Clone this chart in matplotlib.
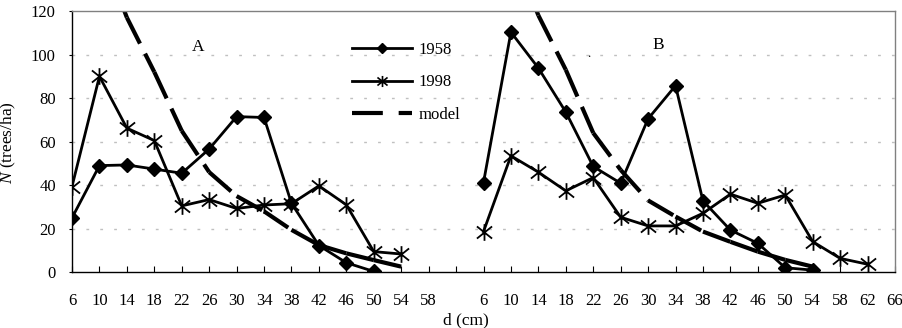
import matplotlib
matplotlib.use("Agg")
import matplotlib.pyplot as plt
from matplotlib.path import Path
from matplotlib.lines import Line2D
import numpy as np

plt.rcParams['font.family'] = ['Liberation Serif', 'DejaVu Serif']
plt.rcParams['mathtext.fontset'] = 'custom'
plt.rcParams['mathtext.rm'] = 'Liberation Serif'
plt.rcParams['mathtext.it'] = 'Liberation Serif:italic'

# ---- data ----
d_A = [6, 10, 14, 18, 22, 26, 30, 34, 38, 42, 46, 50, 54, 58]
d_B = [6, 10, 14, 18, 22, 26, 30, 34, 38, 42, 46, 50, 54, 58, 62, 66]

a1958 = [25, 49, 49.3, 47.4, 45.5, 56.6, 71.5, 71.1, 31.7, 12.3, 4.4, 0.4]
a1998 = [39.4, 90, 66.2, 60.5, 30.5, 33.4, 29.3, 30.9, 31.5, 39.7, 31, 9.5, 8.4]
a_model_d = [10, 14, 18, 22, 26, 30, 34, 38, 42, 46, 50, 54]
a_model = [150, 117, 92, 65, 46, 35, 28, 19.5, 12.5, 8.7, 5.6, 2.6]

b1958 = [41.2, 110.3, 93.8, 73.6, 48.6, 40.9, 70.5, 85.7, 32.8, 19.4, 13.3, 2.1, 1.0]
b1998 = [18.7, 53.5, 46, 37.4, 43.5, 25.3, 21.3, 21.3, 27.1, 35.9, 31.7, 35.5, 14.1, 6.4, 3.7]
b_model_d = [10, 14, 18, 22, 26, 30, 34, 38, 42, 46, 50, 54]
b_model = [150, 118, 93, 64, 47, 33, 25.6, 18.7, 14, 9.5, 5.7, 2.6]

# category positions: panel A, one blank slot, panel B
posA = {d: i for i, d in enumerate(d_A)}
offB = len(d_A) + 1
posB = {d: offB + i for i, d in enumerate(d_B)}
tick_pos = list(range(offB + len(d_B)))
tick_lab = [str(d) for d in d_A] + [''] + [str(d) for d in d_B]

star = Path([(-1, -0.8), (1, 0.8), (-1, 0.8), (1, -0.8), (0, -1.1), (0, 1.1)],
            [Path.MOVETO, Path.LINETO, Path.MOVETO, Path.LINETO, Path.MOVETO, Path.LINETO])

FS = 12

fig = plt.figure(figsize=(9.02, 3.28), dpi=100)
ax = fig.add_axes([72/902, 1-272.3/328, (895-72)/902, (272.3-11)/328])

line_kw = dict(color='black', lw=2.0)
dia_kw = dict(marker='D', ms=7, mfc='black', mec='black')
star_kw = dict(marker=star, ms=12, mfc='none', mec='black', mew=1.3)
model_kw = dict(color='black', lw=3.0, dashes=(7, 2.7), solid_capstyle='butt', dash_capstyle='butt')

def seg_plot(xs, ys):
    for i in range(len(xs) - 1):
        ax.plot(xs[i:i+2], ys[i:i+2], **model_kw)

# panel A
ax.plot([posA[d] for d in d_A[:len(a1958)]], a1958, **line_kw, **dia_kw)
ax.plot([posA[d] for d in d_A[:len(a1998)]], a1998, **line_kw, **star_kw)
seg_plot([posA[d] for d in a_model_d], a_model)
# panel B
ax.plot([posB[d] for d in d_B[:len(b1958)]], b1958, **line_kw, **dia_kw)
ax.plot([posB[d] for d in d_B[:len(b1998)]], b1998, **line_kw, **star_kw)
seg_plot([posB[d] for d in b_model_d], b_model)

ax.set_xlim(0, tick_pos[-1])
ax.set_ylim(0, 120)
ax.set_yticks([0, 20, 40, 60, 80, 100, 120])
ax.set_xticks(tick_pos)
ax.set_xticklabels(tick_lab)
ax.tick_params(axis='x', direction='in', length=4, width=0.8, pad=15, labelsize=FS)
ax.tick_params(axis='y', direction='out', length=2.2, width=0.8, pad=9.5, labelsize=FS)

for y in [20, 40, 60, 80, 100]:
    ax.axhline(y, color='#c0c0c0', lw=1.0, ls=(0, (2, 8)), zorder=0)

ax.spines['left'].set_color('black')
ax.spines['bottom'].set_color('black')
ax.spines['left'].set_linewidth(1.0)
ax.spines['bottom'].set_linewidth(1.0)
ax.spines['top'].set_color('#808080')
ax.spines['right'].set_color('#808080')
ax.spines['top'].set_linewidth(1.0)
ax.spines['right'].set_linewidth(1.0)

ax.text(4.59, 103.5, 'A', fontsize=12.5, ha='center', va='center')
ax.text(21.36, 104.5, 'B', fontsize=12.5, ha='center', va='center')
ax.text(18.85, 97.5, '.', fontsize=9, ha='center', va='bottom')

fig.text(465.5/902, 1-320/328, 'd (cm)', fontsize=12.5, ha='center', va='center')
fig.text(8/902, 1-143/328, r'$N$ (trees/ha)', fontsize=12.5, ha='center', va='center', rotation=90)

h1 = Line2D([], [], color='black', lw=2.0, marker='D', ms=4.8, mfc='black', mec='black')
h2 = Line2D([], [], color='black', lw=2.0, marker=star, ms=8, mfc='none', mec='black', mew=1.2)
h3 = Line2D([], [], color='black', lw=3.0, dashes=(7.4, 3.8), dash_capstyle='butt')
leg = ax.legend([h1, h2, h3], ['1958', '1998', 'model'], loc='upper left',
                bbox_to_anchor=((349-72)/823, 1-(39-11)/261.3), frameon=False,
                fontsize=FS, handlelength=3.55, handletextpad=0.4, labelspacing=0.97,
                borderpad=0.2, borderaxespad=0)

fig.savefig('out.png', dpi=100)
